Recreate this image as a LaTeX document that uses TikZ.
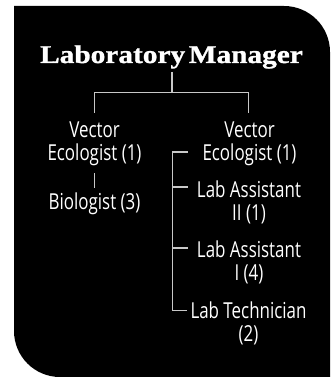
\documentclass[tikz,border=0pt]{standalone}
\usepackage{fontspec}
\newfontfamily\titlefont[FakeStretch=1.15,FakeBold=1.2,WordSpace=0.5]{Liberation Serif Bold}
\newfontfamily\labelfont[FakeStretch=0.77]{Open Sans}
\definecolor{rulegray}{RGB}{200,200,200}
\begin{document}
\begin{tikzpicture}[x=1pt,y=-1pt,
  title/.style={text=white, font=\titlefont\fontsize{25.5}{29}\selectfont, inner sep=0pt, anchor=base},
  role/.style={text=white, font=\labelfont\fontsize{22}{23}\selectfont, align=center, inner sep=0pt, anchor=base},
  link/.style={draw=rulegray, line width=1.3pt}]
\useasboundingbox (0,0) rectangle (336,377);
% black panel, rounded at top right and bottom left
\fill[black] (14,6) -- (284,6)
  .. controls (309.4,6) and (330,26.6) .. (330,52)
  -- (330,377) -- (60,377)
  .. controls (34.6,377) and (14,356.4) .. (14,331) -- cycle;

% labels (base anchor sits on the last line)
\node[title] (mgr) at (171.5,63) {Laboratory Manager};
\node[role] (veL) at (94.5,160) {Vector\\Ecologist (1)};
\node[role] (bio) at (94.5,209) {Biologist (3)};
\node[role] (veR) at (249.5,160) {Vector\\Ecologist (1)};
\node[role] (la2) at (249,220) {Lab Assistant\\II (1)};
\node[role] (la1) at (249,280) {Lab Assistant\\I (4)};
\node[role] (tech) at (248.5,341) {Lab Technician\\(2)};

% tree connectors
\coordinate (stem) at (172,72);
\coordinate (fork) at (172,92.5);
\coordinate (dropL) at (94.5,113);
\coordinate (dropR) at (248.7,113);
\draw[link] (stem) -- (fork);
\draw[link] (dropL) |- (fork) -| (dropR);

\coordinate (bioTop) at (94.5,173);
\coordinate (bioBot) at (94.5,188);
\draw[link] (bioTop) -- (bioBot);

\coordinate (spine1) at (172.3,152);
\coordinate (spine2) at (172.3,187);
\coordinate (spine3) at (172.3,248);
\coordinate (spine4) at (172.3,310.5);
\coordinate (tick1) at (187.5,152);
\coordinate (tick2) at (187.5,187);
\coordinate (tick3) at (187.5,248);
\coordinate (tick4) at (187,310.5);
\draw[link] (tick1) -- (spine1) -- (spine4) -- (tick4);
\draw[link] (spine2) -- (tick2);
\draw[link] (spine3) -- (tick3);
\end{tikzpicture}
\end{document}
